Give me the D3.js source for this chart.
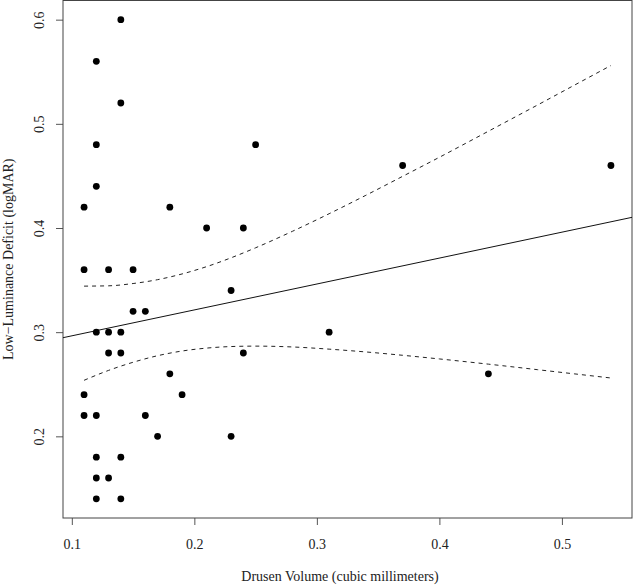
<!DOCTYPE html>
<html>
<head>
<meta charset="utf-8">
<script src="https://cdn.jsdelivr.net/npm/d3@7"></script>
<style>
body { margin: 0; background: #fff; }
text { font-family: "Liberation Serif", "DejaVu Serif", serif; }
</style>
</head>
<body>
<div id="chart"></div>
<script>
// drusen volume (x) vs low-luminance deficit (y)
var volume  = [0.14,0.12,0.14,0.12,0.12,0.11,0.18,0.21,0.24,0.25,0.37,0.54,
               0.11,0.13,0.15,0.23,0.15,0.16,0.12,0.13,0.14,0.31,0.13,0.14,
               0.24,0.18,0.44,0.11,0.19,0.11,0.12,0.16,0.17,0.23,0.12,0.14,
               0.12,0.13,0.12,0.14];
var deficit = [0.60,0.56,0.52,0.48,0.44,0.42,0.42,0.40,0.40,0.48,0.46,0.46,
               0.36,0.36,0.36,0.34,0.32,0.32,0.30,0.30,0.30,0.30,0.28,0.28,
               0.28,0.26,0.26,0.24,0.24,0.22,0.22,0.22,0.20,0.20,0.18,0.18,
               0.16,0.16,0.14,0.14];

// fitted line
var fitIntercept = 0.2716;
var fitSlope = 0.2488;

// confidence band
var bandX     = [0.11,0.13,0.15,0.17,0.19,0.21,0.23,0.25,0.28,0.31,0.34,0.37,0.40,0.44,0.48,0.51,0.54];
var bandUpper = [0.3442,0.3445,0.3467,0.3504,0.3559,0.3629,0.3714,0.3810,0.3968,0.4137,0.4314,0.4496,0.4679,0.4929,0.5180,0.5370,0.5560];
var bandLower = [0.2538,0.2633,0.2711,0.2774,0.2819,0.2847,0.2862,0.2866,0.2858,0.2837,0.2810,0.2778,0.2743,0.2693,0.2640,0.2600,0.2560];

var xTicks = [0.1,0.2,0.3,0.4,0.5];
var yTicks = [0.2,0.3,0.4,0.5,0.6];

var width = 633, height = 586;
var plotLeft = 63, plotRight = 632, plotTop = 0.5, plotBottom = 518;

var svg = d3.select("#chart")
  .append("svg")
  .attr("width", width)
  .attr("height", height);

// R style 4% padding on the data range
function pad(ext) {
  var d = (ext[1] - ext[0]) * 0.04;
  return [ext[0] - d, ext[1] + d];
}

var xScale = d3.scaleLinear()
  .domain(pad(d3.extent(volume)))
  .range([plotLeft, plotRight]);

var yScale = d3.scaleLinear()
  .domain(pad(d3.extent(deficit)))
  .range([plotBottom, plotTop]);

// axes
var xAxis = svg.append("g")
  .attr("transform", "translate(0," + plotBottom + ")")
  .call(d3.axisBottom(xScale).tickValues(xTicks).tickSize(7).tickFormat(d3.format(".1f")));
xAxis.select(".domain").remove();
xAxis.selectAll("line").attr("stroke", "#555");
xAxis.selectAll("text")
  .attr("y", 31)
  .attr("dy", "0")
  .attr("fill", "#222")
  .style("font-size", "14px")
  .style("font-family", "Liberation Serif");

var yAxis = svg.append("g")
  .attr("transform", "translate(" + plotLeft + ",0)")
  .call(d3.axisLeft(yScale).tickValues(yTicks).tickSize(7).tickFormat(d3.format(".1f")));
yAxis.select(".domain").remove();
yAxis.selectAll("line").attr("stroke", "#555");
yAxis.selectAll("text")
  .attr("transform", "rotate(-90)")
  .attr("x", 0)
  .attr("y", -19.5)
  .attr("dy", "0")
  .attr("text-anchor", "middle")
  .attr("fill", "#222")
  .style("font-size", "14px")
  .style("font-family", "Liberation Serif");

// box
svg.append("rect")
  .attr("x", plotLeft)
  .attr("y", plotTop)
  .attr("width", plotRight - plotLeft)
  .attr("height", plotBottom - plotTop)
  .attr("fill", "none")
  .attr("stroke", "#444");

// fitted line across the plot
var xd = xScale.domain();
svg.append("line")
  .attr("x1", xScale(xd[0]))
  .attr("y1", yScale(fitIntercept + fitSlope * xd[0]))
  .attr("x2", xScale(xd[1]))
  .attr("y2", yScale(fitIntercept + fitSlope * xd[1]))
  .attr("stroke", "#111")
  .attr("stroke-width", 1);

// confidence bands
var band = d3.line()
  .x(function(d) { return xScale(d[0]); })
  .y(function(d) { return yScale(d[1]); })
  .curve(d3.curveMonotoneX);

[bandUpper, bandLower].forEach(function(vals) {
  svg.append("path")
    .attr("d", band(bandX.map(function(x, i) { return [x, vals[i]]; })))
    .attr("fill", "none")
    .attr("stroke", "#222")
    .attr("stroke-width", 1)
    .attr("stroke-dasharray", "4,4");
});

// points
svg.selectAll("circle")
  .data(volume)
  .enter()
  .append("circle")
  .attr("cx", function(d) { return xScale(d); })
  .attr("cy", function(d, i) { return yScale(deficit[i]); })
  .attr("r", 3.4)
  .attr("fill", "#000");

// axis titles
svg.append("text")
  .text("Drusen Volume (cubic millimeters)")
  .attr("x", 340)
  .attr("y", 581)
  .attr("text-anchor", "middle")
  .attr("fill", "#222")
  .style("font-size", "14px");

svg.append("text")
  .text("Low\u2212Luminance Deficit (logMAR)")
  .attr("transform", "translate(13," + ((plotTop + plotBottom) / 2) + ") rotate(-90)")
  .attr("text-anchor", "middle")
  .attr("fill", "#222")
  .style("font-size", "14px");
</script>
</body>
</html>
